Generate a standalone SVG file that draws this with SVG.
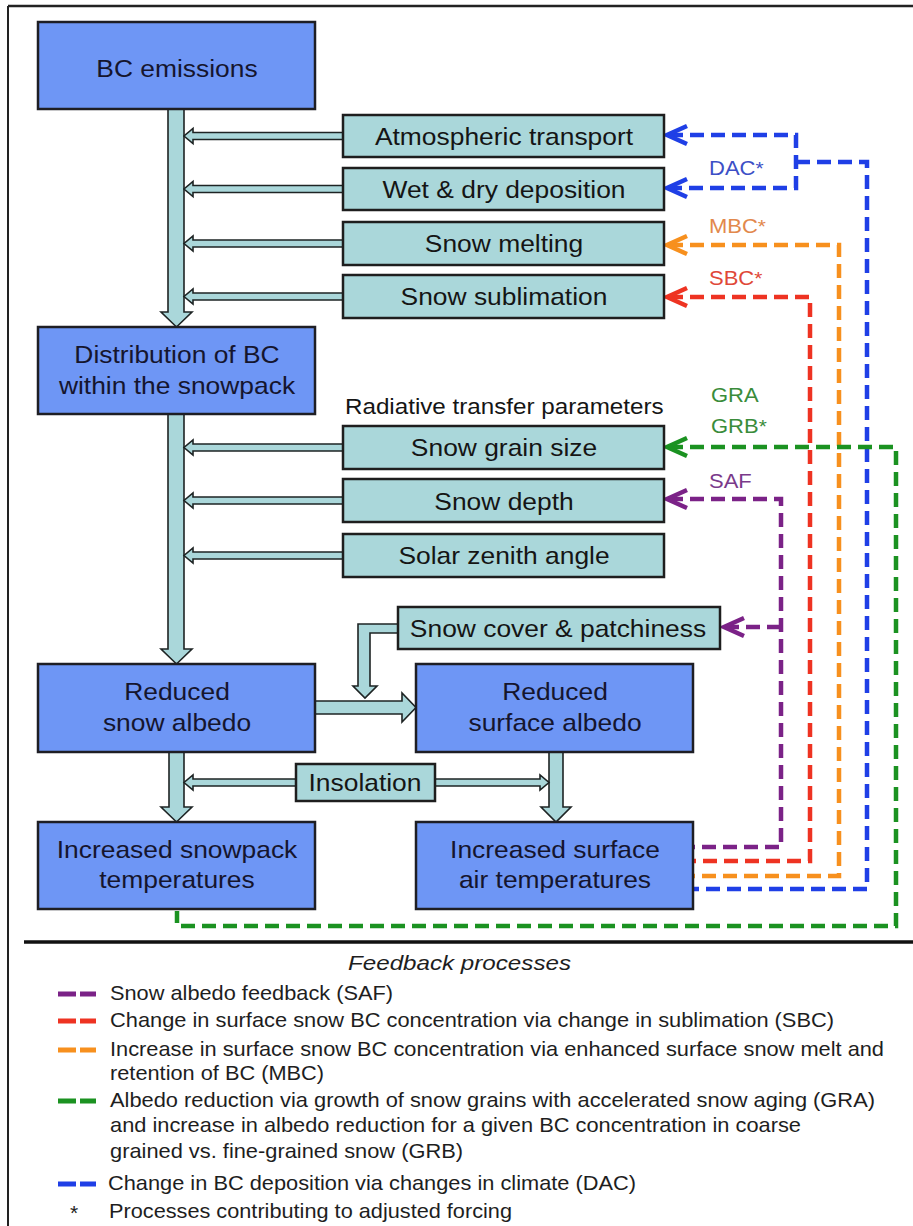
<svg xmlns="http://www.w3.org/2000/svg" width="913" height="1226" viewBox="0 0 913 1226">
<style>
.dk{fill:#6e96f5;stroke:#1e1e24;stroke-width:2.5}
.lt{fill:#aad7da;stroke:#1e1e1e;stroke-width:2.5}
.ar{fill:#aad7da;stroke:#1e2424;stroke-width:1.6;stroke-linejoin:miter}
.bt{font-family:"Liberation Sans",Arial,sans-serif;font-size:24px;text-anchor:middle;fill:#15152e}
.st{font-family:"Liberation Sans",Arial,sans-serif;font-size:24px;text-anchor:middle;fill:#151515}
.lb{font-family:"Liberation Sans",Arial,sans-serif;font-size:20px}
.lg{font-family:"Liberation Sans",Arial,sans-serif;font-size:21px;fill:#1e1e1e}
.dl{fill:none;stroke-width:4.5;stroke-dasharray:14 7}
.ch{fill:none;stroke-width:4.5;stroke-linejoin:miter}
.ld{stroke-width:5;stroke-dasharray:18 4}
</style>
<g id="frame">
<line x1="8" y1="6" x2="913" y2="6" stroke="#222" stroke-width="2.5"/>
<line x1="8" y1="6" x2="8" y2="1226" stroke="#222" stroke-width="2"/>
<line x1="24" y1="942" x2="913" y2="942" stroke="#111" stroke-width="3.5"/>
</g>
<g id="flow-arrows">
<polygon class="ar" points="168,109 184,109 184,312 192,312 176.5,327 161,312 168,312"/>
<polygon class="ar" points="168,414 184,414 184,649 192,649 176.5,664 161,649 168,649"/>
<polygon class="ar" points="169,752 184,752 184,807 192,807 176.5,822 161,807 169,807"/>
<polygon class="ar" points="549,752 563,752 563,807 571,807 556,822 541,807 549,807"/>
<polygon class="ar" points="343,132.5 193,132.5 193,128.5 184,136 193,143.5 193,139.5 343,139.5"/>
<polygon class="ar" points="343,185.5 193,185.5 193,181.5 184,189 193,196.5 193,192.5 343,192.5"/>
<polygon class="ar" points="343,240 193,240 193,236 184,243.5 193,251 193,247 343,247"/>
<polygon class="ar" points="343,293 193,293 193,289 184,296.5 193,304 193,300 343,300"/>
<polygon class="ar" points="343,444 193,444 193,440 184,447.5 193,455 193,451 343,451"/>
<polygon class="ar" points="343,497 193,497 193,493 184,500.5 193,508 193,504 343,504"/>
<polygon class="ar" points="343,552 193,552 193,548 184,555.5 193,563 193,559 343,559"/>
<polygon class="ar" points="296,779 193,779 193,775 184,782.5 193,790 193,786 296,786"/>
<polygon class="ar" points="435,779 540,779 540,775 549,782.5 540,790 540,786 435,786"/>
<polygon class="ar" points="315,701 402,701 402,693 416,707.5 402,722 402,714 315,714"/>
<polygon class="ar" points="398,624 358,624 358,686 353,686 365,698 377,686 370,686 370,633 398,633"/>
</g>
<g id="connectors">
<path class="dl" stroke="#1f3fe6" d="M669 135 H796 V188 H669 M796 162 H867 V889 H694"/>
<polyline class="ch" stroke="#1f3fe6" points="687,126 667,135 687,144"/>
<polyline class="ch" stroke="#1f3fe6" points="687,179 667,188 687,197"/>
<path class="dl" stroke="#f7901e" d="M669 245 H839 V876 H694"/>
<polyline class="ch" stroke="#f7901e" points="687,236 667,245 687,254"/>
<path class="dl" stroke="#ee3322" d="M669 297 H810 V861 H694"/>
<polyline class="ch" stroke="#ee3322" points="687,288 667,297 687,306"/>
<path class="dl" stroke="#1b9221" d="M669 447 H896 V926 H177 V911"/>
<polyline class="ch" stroke="#1b9221" points="687,438 667,447 687,456"/>
<path class="dl" stroke="#7b2287" d="M669 499 H781 V847 H694 M781 627 H726"/>
<polyline class="ch" stroke="#7b2287" points="687,490 667,499 687,508"/>
<polyline class="ch" stroke="#7b2287" points="744,618 724,627 744,636"/>
</g>
<g id="labels">
<text class="lb" fill="#3d4fc6" transform="translate(709,175) scale(1.1,1)">DAC<tspan font-size="19">*</tspan></text>
<text class="lb" fill="#e2884c" transform="translate(709,233) scale(1.1,1)">MBC<tspan font-size="19">*</tspan></text>
<text class="lb" fill="#e04838" transform="translate(709,285) scale(1.1,1)">SBC<tspan font-size="19">*</tspan></text>
<text class="lb" fill="#3a8c3a" transform="translate(711,402) scale(1.1,1)">GRA</text>
<text class="lb" fill="#3a8c3a" transform="translate(711,433) scale(1.1,1)">GRB<tspan font-size="19">*</tspan></text>
<text class="lb" fill="#7a3a8a" transform="translate(709,488) scale(1.1,1)">SAF</text>
<text class="st" style="font-size:22px;text-anchor:start" transform="translate(345,414) scale(1.1,1)">Radiative transfer parameters</text>
</g>
<g id="n-bc-emissions"><rect class="dk" x="38" y="22" width="277" height="87"/><text class="bt" transform="translate(177,77) scale(1.1,1)">BC emissions</text></g>
<g id="n-distribution"><rect class="dk" x="38" y="327" width="277" height="87"/><text class="bt" transform="translate(177,363) scale(1.1,1)">Distribution of BC</text><text class="bt" transform="translate(177,394) scale(1.1,1)">within the snowpack</text></g>
<g id="n-reduced-snow-albedo"><rect class="dk" x="38" y="664" width="277" height="88"/><text class="bt" transform="translate(177,700) scale(1.1,1)">Reduced</text><text class="bt" transform="translate(177,731) scale(1.1,1)">snow albedo</text></g>
<g id="n-reduced-surface-albedo"><rect class="dk" x="416" y="664" width="277" height="88"/><text class="bt" transform="translate(555,700) scale(1.1,1)">Reduced</text><text class="bt" transform="translate(555,731) scale(1.1,1)">surface albedo</text></g>
<g id="n-snowpack-temp"><rect class="dk" x="38" y="822" width="277" height="87"/><text class="bt" transform="translate(177,858) scale(1.1,1)">Increased snowpack</text><text class="bt" transform="translate(177,888) scale(1.1,1)">temperatures</text></g>
<g id="n-surface-air-temp"><rect class="dk" x="416" y="822" width="277" height="87"/><text class="bt" transform="translate(555,858) scale(1.1,1)">Increased surface</text><text class="bt" transform="translate(555,888) scale(1.1,1)">air temperatures</text></g>
<g id="n-atm-transport"><rect class="lt" x="343" y="115" width="321" height="42"/><text class="st" transform="translate(504,144.5) scale(1.1,1)">Atmospheric transport</text></g>
<g id="n-deposition"><rect class="lt" x="343" y="168" width="321" height="42"/><text class="st" transform="translate(504,197.5) scale(1.1,1)">Wet &amp; dry deposition</text></g>
<g id="n-melting"><rect class="lt" x="343" y="222" width="321" height="43"/><text class="st" transform="translate(504,252) scale(1.1,1)">Snow melting</text></g>
<g id="n-sublimation"><rect class="lt" x="343" y="275" width="321" height="43"/><text class="st" transform="translate(504,305) scale(1.1,1)">Snow sublimation</text></g>
<g id="n-grain-size"><rect class="lt" x="343" y="426" width="321" height="43"/><text class="st" transform="translate(504,456) scale(1.1,1)">Snow grain size</text></g>
<g id="n-depth"><rect class="lt" x="343" y="479" width="321" height="43"/><text class="st" transform="translate(504,509.5) scale(1.1,1)">Snow depth</text></g>
<g id="n-zenith"><rect class="lt" x="343" y="534" width="321" height="43"/><text class="st" transform="translate(504,564) scale(1.1,1)">Solar zenith angle</text></g>
<g id="n-snow-cover"><rect class="lt" x="398" y="607" width="322" height="42"/><text class="st" transform="translate(558,636.5) scale(1.1,1)">Snow cover &amp; patchiness</text></g>
<g id="n-insolation"><rect class="lt" x="296" y="764" width="139" height="37"/><text class="st" transform="translate(365,791) scale(1.1,1)">Insolation</text></g>
<g id="legend">
<text class="lg" x="348" y="970" font-style="italic" font-size="22" textLength="223" lengthAdjust="spacingAndGlyphs">Feedback processes</text>
<line class="ld" x1="58" y1="994" x2="96" y2="994" stroke="#7b2287"/>
<text class="lg" x="110" y="1000" textLength="283" lengthAdjust="spacingAndGlyphs">Snow albedo feedback (SAF)</text>
<line class="ld" x1="58" y1="1021" x2="96" y2="1021" stroke="#ee3322"/>
<text class="lg" x="110" y="1027" textLength="724" lengthAdjust="spacingAndGlyphs">Change in surface snow BC concentration via change in sublimation (SBC)</text>
<line class="ld" x1="58" y1="1050" x2="96" y2="1050" stroke="#f7901e"/>
<text class="lg" x="110" y="1056" textLength="774" lengthAdjust="spacingAndGlyphs">Increase in surface snow BC concentration via enhanced surface snow melt and</text>
<text class="lg" x="110" y="1080" textLength="214" lengthAdjust="spacingAndGlyphs">retention of BC (MBC)</text>
<line class="ld" x1="58" y1="1101" x2="96" y2="1101" stroke="#1b9221"/>
<text class="lg" x="110" y="1107" textLength="765" lengthAdjust="spacingAndGlyphs">Albedo reduction via growth of snow grains with accelerated snow aging (GRA)</text>
<text class="lg" x="110" y="1132" textLength="691" lengthAdjust="spacingAndGlyphs">and increase in albedo reduction for a given BC concentration in coarse</text>
<text class="lg" x="110" y="1158" textLength="353" lengthAdjust="spacingAndGlyphs">grained vs. fine-grained snow (GRB)</text>
<line class="ld" x1="58" y1="1184" x2="96" y2="1184" stroke="#1f3fe6"/>
<text class="lg" x="108" y="1190" textLength="528" lengthAdjust="spacingAndGlyphs">Change in BC deposition via changes in climate (DAC)</text>
<text class="lg" x="70" y="1220" font-size="18">*</text>
<text class="lg" x="109" y="1218" textLength="403" lengthAdjust="spacingAndGlyphs">Processes contributing to adjusted forcing</text>
</g>
</svg>
